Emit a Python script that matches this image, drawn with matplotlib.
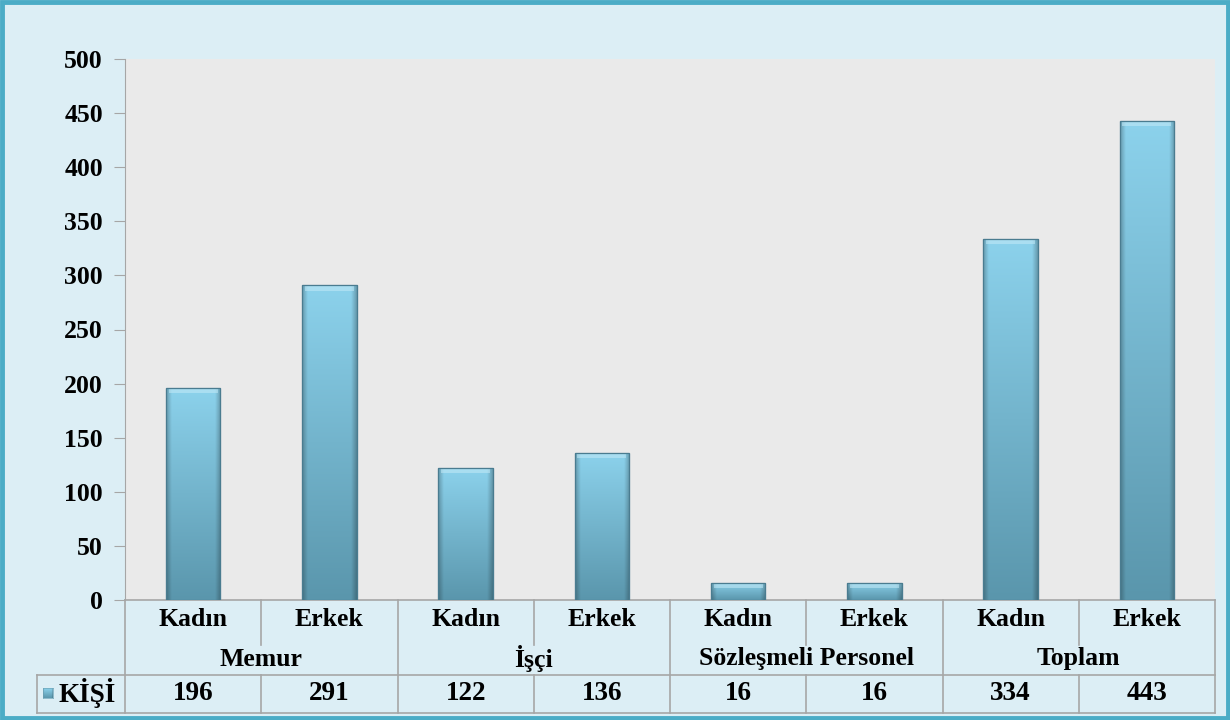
import numpy as np
import matplotlib
matplotlib.use("Agg")
import matplotlib.pyplot as plt
from matplotlib.colors import to_rgb
from matplotlib.patches import Rectangle

sub_labels = ["Kadın", "Erkek", "Kadın", "Erkek", "Kadın", "Erkek", "Kadın", "Erkek"]
groups = ["Memur", "İşçi", "Sözleşmeli Personel", "Toplam"]
values = [196, 291, 122, 136, 16, 16, 334, 443]
series_name = "KİŞİ"
yticks = [0, 50, 100, 150, 200, 250, 300, 350, 400, 450, 500]

plt.rcParams['font.family'] = ['Liberation Serif', 'DejaVu Serif']

W, H = 1230, 720
fig = plt.figure(figsize=(12.3, 7.2), dpi=100)
fig.patch.set_facecolor("#DCEEF5")

px_l, px_r, px_t, px_b = 125, 1215, 59, 600
ax = fig.add_axes([px_l / W, 1 - px_b / H, (px_r - px_l) / W, (px_b - px_t) / H])
ax.set_facecolor("#EAEAEA")
ax.set_xlim(-0.5, len(values) - 0.5)
ax.set_ylim(0, 500)
ax.set_yticks(yticks)
ax.set_yticklabels([str(t) for t in yticks], fontsize=18.5, fontweight="bold")
ax.set_xticks([])
for s in ["top", "right", "bottom"]:
    ax.spines[s].set_visible(False)
ax.spines["left"].set_color("#A6A6A6")
ax.tick_params(axis="y", length=8, color="#A6A6A6", pad=8)

top = np.array(to_rgb("#8CD2EC"))
bot = np.array(to_rgb("#5A96AC"))
ny, nx = 200, 60
tv = np.linspace(0, 1, ny)[:, None, None]
grad = top * (1 - tv) + bot * tv
hx = np.linspace(-1, 1, nx)
hfac = 1 - 0.25 * np.clip((np.abs(hx) - 0.8) / 0.2, 0, 1)
img = np.clip(grad * hfac[None, :, None], 0, 1)
img = np.broadcast_to(img, (ny, nx, 3)).copy()

bw = 0.4
bars = ax.bar(range(len(values)), values, width=bw, color="#7EC3DC",
              edgecolor="#4E8397", linewidth=0.8, zorder=2)
for b in bars:
    x0, h = b.get_x(), b.get_height()
    im = ax.imshow(img, extent=(x0, x0 + bw, 0, h), aspect="auto", zorder=3,
                   interpolation="bilinear")
    im.set_clip_path(b)
    bev = min(5, h * 0.3)
    ax.add_patch(Rectangle((x0 + 0.02, h - bev), bw - 0.04, bev, facecolor="#C4EAF7",
                           edgecolor="none", alpha=0.55, zorder=4))
    ax.add_patch(Rectangle((x0, 0), bw, h, facecolor="none", edgecolor="#4A7C90",
                           linewidth=0.9, zorder=5))
ax.set_xlim(-0.5, len(values) - 0.5)
ax.set_ylim(0, 500)

def fy(py):
    return (px_b - py) / (px_b - px_t)

line_kw = dict(color="#A6A6A6", linewidth=1.2, clip_on=False, transform=ax.get_xaxis_transform())
n = len(values)
y_sub_bot = fy(645)
y_val_top = fy(675)
y_bot = fy(713)

for i in range(n + 1):
    x = i - 0.5
    if i == 0 or i == n or i % 2 == 0:
        ax.plot([x, x], [0, y_bot], **line_kw)
    else:
        ax.plot([x, x], [0, y_sub_bot], **line_kw)
        ax.plot([x, x], [y_val_top, y_bot], **line_kw)
x_leg = -0.5 - (125 - 37) / ((px_r - px_l) / n)
ax.plot([x_leg, x_leg], [y_val_top, y_bot], **line_kw)
ax.plot([x_leg, n - 0.5], [y_val_top, y_val_top], **line_kw)
ax.plot([x_leg, n - 0.5], [y_bot, y_bot], **line_kw)
ax.plot([-0.5, n - 0.5], [0, 0], **line_kw)

tkw = dict(fontsize=18.5, fontweight="bold", ha="center", va="center",
           transform=ax.get_xaxis_transform(), clip_on=False)
for i, lab in enumerate(sub_labels):
    ax.text(i, fy(619), lab, **tkw)
for g, lab in enumerate(groups):
    ax.text(2 * g + 0.5, fy(659), lab, **tkw)
for i, v in enumerate(values):
    ax.text(i, fy(694), str(v), fontsize=19.5, fontweight="bold", ha="center", va="center",
            transform=ax.get_xaxis_transform(), clip_on=False)
ax.text(x_leg + 0.16, fy(693), series_name, fontsize=19.5, fontweight="bold", ha="left",
        va="center", transform=ax.get_xaxis_transform(), clip_on=False)
key = fig.add_axes([43 / W, 1 - 698 / H, 10 / W, 10 / H])
key.imshow(img, aspect="auto", interpolation="bilinear")
key.set_xticks([]); key.set_yticks([])
for s in key.spines.values():
    s.set_color("#6FA6BA"); s.set_linewidth(0.5)

fig.add_artist(Rectangle((2 / W, 2 / H), 1 - 4 / W, 1 - 4 / H, transform=fig.transFigure,
                         facecolor="none", edgecolor="#4BACC6", linewidth=3.5))

fig.savefig("out.png", dpi=100, facecolor=fig.get_facecolor())
